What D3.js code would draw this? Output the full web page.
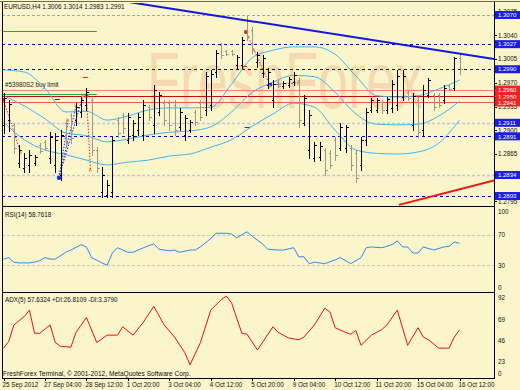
<!DOCTYPE html>
<html>
<head>
<meta charset="utf-8">
<script src="https://cdnjs.cloudflare.com/ajax/libs/d3/7.8.5/d3.min.js"></script>
<style>
  body { margin: 0; background: #fbf5cc; }
  svg text { font-family: "Liberation Sans", Arial, sans-serif; }
</style>
</head>
<body>
<div id="chart"></div>
<script>
// EURUSD H4 bars, index 0 = 25 Sep 20:00, index 88 = 16 Oct 12:00
const openPx = [1.2908,1.2915,1.2908,1.2852,1.2844,1.2849,1.2852,1.2878,1.2883,1.2859,
  1.2849,1.2834,1.2911,1.2923,1.2915,1.2927,1.2937,1.2945,1.2871,1.2809,
  1.2804,1.2809,1.2915,1.2923,1.2886,1.2893,1.2900,1.2893,1.2934,1.2908,
  1.2927,1.2940,1.2940,1.2937,1.2905,1.2893,1.2900,1.2927,1.2940,1.2930,
  1.2937,1.2986,1.3026,1.3017,1.3017,1.2996,1.2996,1.3063,1.3048,1.3001,
  1.2984,1.2967,1.2945,1.2971,1.2965,1.2967,1.2971,1.2974,1.2911,1.2871,
  1.2859,1.2860,1.2871,1.2866,1.2886,1.2874,1.2874,1.2874,1.2866,1.2849,
  1.2886,1.2930,1.2930,1.2942,1.2930,1.2933,1.2937,1.2949,1.2956,1.2908,
  1.2945,1.2900,1.2952,1.2952,1.2952,1.2945,1.2965,1.2962,1.3006];
const highPx = [1.2955,1.2945,1.2911,1.2878,1.2866,1.2871,1.2863,1.2881,1.2886,1.2897,
  1.2896,1.2900,1.2915,1.2925,1.2940,1.2949,1.2962,1.2948,1.2875,1.2846,
  1.2827,1.2890,1.2920,1.2925,1.2925,1.2915,1.2925,1.2945,1.2937,1.2967,
  1.2956,1.2945,1.2945,1.2945,1.2933,1.2923,1.2915,1.2930,1.2945,1.2986,
  1.2989,1.3018,1.3029,1.3018,1.3018,1.3011,1.3038,1.3070,1.3052,1.3015,
  1.3011,1.2992,1.2974,1.2974,1.2973,1.2979,1.2986,1.2977,1.2952,1.2930,
  1.2883,1.2883,1.2874,1.2871,1.2890,1.2911,1.2908,1.2878,1.2871,1.2890,
  1.2933,1.2948,1.2948,1.2945,1.2949,1.2974,1.2989,1.2989,1.2959,1.2955,
  1.2949,1.2967,1.2977,1.2955,1.2955,1.2967,1.2967,1.3008,1.3014];
const lowPx = [1.2896,1.2899,1.2866,1.2846,1.2838,1.2838,1.2849,1.2866,1.2871,1.2852,
  1.2838,1.2827,1.2875,1.2881,1.2908,1.2920,1.2930,1.2863,1.2838,1.2801,
  1.2801,1.2801,1.2890,1.2896,1.2881,1.2886,1.2893,1.2886,1.2915,1.2896,
  1.2923,1.2908,1.2900,1.2893,1.2900,1.2886,1.2897,1.2908,1.2915,1.2923,
  1.2930,1.2979,1.3007,1.3011,1.3011,1.2992,1.2992,1.3033,1.3014,1.2993,
  1.2979,1.2962,1.2934,1.2964,1.2962,1.2964,1.2967,1.2905,1.2908,1.2859,
  1.2855,1.2856,1.2834,1.2844,1.2856,1.2871,1.2868,1.2841,1.2824,1.2841,
  1.2878,1.2927,1.2927,1.2925,1.2925,1.2927,1.2930,1.2945,1.2945,1.2900,
  1.2890,1.2893,1.2949,1.2930,1.2934,1.2940,1.2959,1.2959,1.2983];
const closePx = [1.2948,1.2939,1.2874,1.2871,1.2859,1.2863,1.2860,1.2869,1.2874,1.2890,
  1.2886,1.2893,1.2881,1.2889,1.2934,1.2945,1.2956,1.2871,1.2844,1.2834,
  1.2819,1.2886,1.2896,1.2903,1.2920,1.2911,1.2920,1.2937,1.2920,1.2959,
  1.2952,1.2915,1.2908,1.2900,1.2927,1.2918,1.2912,1.2912,1.2920,1.2980,
  1.2983,1.3014,1.3011,1.3012,1.3012,1.3008,1.3033,1.3039,1.3018,1.3011,
  1.3007,1.2986,1.2968,1.2965,1.2970,1.2976,1.2981,1.2915,1.2948,1.2923,
  1.2878,1.2877,1.2841,1.2849,1.2863,1.2905,1.2905,1.2849,1.2830,1.2886,
  1.2927,1.2945,1.2945,1.2930,1.2946,1.2968,1.2980,1.2980,1.2948,1.2951,
  1.2897,1.2959,1.2974,1.2934,1.2937,1.2962,1.2961,1.3006,1.2991];

// Bollinger bands, read every 4th bar
const bbIdx = [0,4,8,12,16,20,24,28,32,36,40,44,48,52,56,60,64,68,72,76,80,84,88];
const bbUpper = [1.2989,1.2986,1.2962,1.2927,1.2928,1.2915,1.2921,1.2930,1.2933,1.2933,1.2934,1.2968,1.3007,1.3018,1.3023,1.3023,1.3012,1.2980,1.2951,1.2949,1.2951,1.2961,1.2974];
const bbMiddle = [1.2951,1.2936,1.2917,1.2896,1.2892,1.2883,1.2887,1.2893,1.2897,1.2899,1.2905,1.2927,1.2956,1.2971,1.2981,1.2979,1.2956,1.2924,1.2909,1.2908,1.2909,1.2921,1.2943];
const bbLower = [1.2912,1.2886,1.2871,1.2864,1.2856,1.2849,1.2853,1.2856,1.2862,1.2865,1.2875,1.2886,1.2906,1.2924,1.2940,1.2934,1.2900,1.2871,1.2866,1.2865,1.2868,1.2881,1.2915];

// RSI(14) turning points
const rsiIdx = [0,1,2,3,5,6,7,8,9,10,12,13,15,16,17,19,20,21,22,24,25,27,29,30,32,33,34,36,37,38,40,41,43,44,45,47,48,50,51,53,54,56,57,58,59,60,62,64,65,67,69,70,71,73,75,76,77,78,79,80,81,83,85,86,87,88];
const rsiVal = [38,40,34,33,33,34,36,40,38,38,47,50,57,54,40,33,30,46,53,47,47,53,58,51,49,50,47,50,50,54,65,72,72,71,66,74,68,58,51,50,50,53,41,41,32,34,32,37,40,32,40,53,54,53,57,62,54,54,46,46,54,50,54,55,60.5,58.76];

// ADX(5) turning points
const adxIdx = [0,1,2,4,5,6,7,9,10,11,13,14,16,18,20,22,23,25,27,29,31,33,35,36,38,40,42,43,44,46,47,49,52,53,55,57,58,60,62,63,64,66,67,68,69,71,73,74,76,78,80,81,82,84,86,87,88];
const adxVal = [38,45,63,72,79,54,54,63,44,40,39,55,71,44,52,52,61,52,66,83,63,50,33,20,44,79,90,94,87,54,53,36,61,55,49,47,50,63,81,77,60,55,53,57,41,52,58,63,79,41,60,50,47,38,38,50,57.6];

const timeIdx = [0,8,16,24,32,40,48,56,64,72,80,88];
const timeLabels = ["25 Sep 2012","27 Sep 04:00","28 Sep 12:00","1 Oct 20:00","3 Oct 04:00","4 Oct 12:00",
  "5 Oct 20:00","9 Oct 04:00","10 Oct 12:00","11 Oct 20:00","15 Oct 04:00","16 Oct 12:00"];

const priceTicks = [1.3075,1.3040,1.3005,1.2970,1.2935,1.2900,1.2865,1.2795];
const levelPx = [1.3070,1.3027,1.2990,1.2960,1.2950,1.2941,1.2911,1.2891,1.2834,1.2803];
const levelKind = ["lav","blue","blue","red1","red2","red3","gray","blue","gray","blue"];
const greenPx = [1.3046,1.2953];
const greenEndIdx = 18;

// trend lines: [startIdx, startPx, endIdx, endPx]
const blueTrend = [24.1, 1.30892, 88, 1.3013];
const redTrend = [76.3, 1.2790, 88, 1.2813];

// history trades: [openIdx, openPx, closeIdx, closePx, type]
const trades = [
  [0, 1.2945, 3.3, 1.2867, "sell"],
  [10.7, 1.2830, 12.5, 1.2915, "buy"],
  [10.7, 1.2830, 14, 1.2935, "buy"],
  [10.7, 1.2830, 15.3, 1.2950, "buy"],
  [16, 1.2951, 16.8, 1.2841, "sell"],
  [46.8, 1.3045, 51.5, 1.2965, "sell"],
  [51.5, 1.2967, 57, 1.2970, "buy"]
];
// short stop / take-profit marks: [idx, price, type]
const marks = [[10.4, 1.2946, "buy"], [15.8, 1.2979, "sell"], [46.5, 1.2995, "sell"], [47, 1.2905, "buy"]];

const rsiLevels = [70, 30];
const rsiTicks = [100, 70, 30, 0];
const adxTicks = [92, 69, 46, 23];

const W = 520, H = 390;
const L = 2, R = 494;
const main = {top: 3, bottom: 206};
const rsiPane = {top: 207, bottom: 292};
const adxPane = {top: 293, bottom: 378};

const svg = d3.select('#chart').append('svg')
  .attr('width', W).attr('height', H);

svg.append('rect').attr('width', W).attr('height', H).attr('fill', '#fbf5cc');

const defs = svg.append('defs');
[['clipMain', main], ['clipRsi', rsiPane], ['clipAdx', adxPane]].forEach(([id, p]) => {
  defs.append('clipPath').attr('id', id).append('rect')
    .attr('x', L).attr('y', p.top).attr('width', R - L).attr('height', p.bottom - p.top);
});

const x = d3.scaleLinear().domain([0, 88]).range([3.5, 459.5]);
const y = d3.scaleLinear().domain([1.27883, 1.30877]).range([main.bottom, main.top]);
const yR = d3.scaleLinear().domain([0, 100]).range([288, 212]);
const yA = d3.scaleLinear().domain([0, 92]).range([383.4, 298]);
const px = v => Math.round(v) + 0.5;
const sideColor = t => t === 'buy' ? '#1030f0' : '#f02020';

// watermark
svg.append('text')
  .attr('x', 147).attr('y', 108)
  .attr('font-size', 80)
  .attr('textLength', 276).attr('lengthAdjust', 'spacingAndGlyphs')
  .attr('fill', '#f4d9b1')
  .text('FreshForex');

const gMain = svg.append('g').attr('clip-path', 'url(#clipMain)');

// horizontal levels
const levelStyle = {
  lav: {c: '#9c9cec', d: '3,2', w: 1},
  blue: {c: '#0000d8', d: '3,3', w: 1},
  gray: {c: '#c9c3da', d: '3,2', w: 1.5},
  red1: {c: '#f28474', d: null, w: 1},
  red2: {c: '#c80c0c', d: null, w: 1},
  red3: {c: '#ee5a4a', d: null, w: 1}
};
gMain.selectAll('.level').data(levelPx).enter().append('line')
  .attr('class', 'level')
  .attr('x1', L).attr('x2', R)
  .attr('y1', d => px(y(d))).attr('y2', d => px(y(d)))
  .attr('stroke', (d, i) => levelStyle[levelKind[i]].c)
  .attr('stroke-width', (d, i) => levelStyle[levelKind[i]].w)
  .attr('stroke-dasharray', (d, i) => levelStyle[levelKind[i]].d);

gMain.selectAll('.green').data(greenPx).enter().append('line')
  .attr('x1', L).attr('x2', x(greenEndIdx))
  .attr('y1', d => px(y(d))).attr('y2', d => px(y(d)))
  .attr('stroke', '#1fae1f').attr('stroke-width', 1);

gMain.append('text').attr('x', 5).attr('y', y(greenPx[1]) - 7)
  .attr('font-size', 6.3).attr('fill', '#222').text('#53980S2 buy limit');

// bollinger bands
const bandLine = vals => d3.line()
  .x((d, i) => x(bbIdx[i])).y(d => y(d))
  .curve(d3.curveMonotoneX)(vals);
[bbUpper, bbMiddle, bbLower].forEach(vals => {
  gMain.append('path').attr('d', bandLine(vals))
    .attr('fill', 'none').attr('stroke', '#3fb6ee').attr('stroke-width', 1);
});

// trade history
gMain.selectAll('.trade').data(trades).enter().append('line')
  .attr('x1', d => x(d[0])).attr('y1', d => y(d[1]))
  .attr('x2', d => x(d[2])).attr('y2', d => y(d[3]))
  .attr('stroke', d => sideColor(d[4]))
  .attr('stroke-width', 1).attr('stroke-dasharray', '1.5,1.5');
gMain.selectAll('.topen').data(trades).enter().append('circle')
  .attr('cx', d => x(d[0])).attr('cy', d => y(d[1])).attr('r', 2)
  .attr('fill', d => sideColor(d[4]));
gMain.selectAll('.tclose').data(trades).enter().append('path')
  .attr('d', d => `M${x(d[2]) - 1.5},${y(d[3]) - 2}l3,2l-3,2z`)
  .attr('fill', '#f0a020');
gMain.selectAll('.mark').data(marks).enter().append('line')
  .attr('x1', d => x(d[0]) - 2.5).attr('x2', d => x(d[0]) + 2.5)
  .attr('y1', d => px(y(d[1]))).attr('y2', d => px(y(d[1])))
  .attr('stroke', d => sideColor(d[2])).attr('stroke-width', 1);

// OHLC bars
const bars = gMain.selectAll('.bar').data(closePx).enter().append('g')
  .attr('stroke', (d, i) => d >= openPx[i] ? '#000000' : '#9c9a86')
  .attr('shape-rendering', 'crispEdges');
bars.append('line')
  .attr('x1', (d, i) => px(x(i))).attr('x2', (d, i) => px(x(i)))
  .attr('y1', (d, i) => y(highPx[i])).attr('y2', (d, i) => y(lowPx[i]) + 1);
bars.append('line')
  .attr('x1', (d, i) => px(x(i)) - 2).attr('x2', (d, i) => px(x(i)))
  .attr('y1', (d, i) => px(y(openPx[i]))).attr('y2', (d, i) => px(y(openPx[i])));
bars.append('line')
  .attr('x1', (d, i) => px(x(i))).attr('x2', (d, i) => px(x(i)) + 2)
  .attr('y1', (d, i) => px(y(d))).attr('y2', (d, i) => px(y(d)));

// trend lines, extended to the right edge
const rightIdx = x.invert(R);
[[blueTrend, '#1414e6'], [redTrend, '#f01414']].forEach(([t, c]) => {
  const slope = (t[3] - t[1]) / (t[2] - t[0]);
  gMain.append('line')
    .attr('x1', x(t[0])).attr('y1', y(t[1]))
    .attr('x2', x(rightIdx)).attr('y2', y(t[1] + slope * (rightIdx - t[0])))
    .attr('stroke', c).attr('stroke-width', 2);
});

svg.append('text').attr('x', 4).attr('y', 9).attr('font-size', 6.3).attr('fill', '#111')
  .text('EURUSD,H4  1.3006 1.3014 1.2983 1.2991');

// RSI pane
const gRsi = svg.append('g').attr('clip-path', 'url(#clipRsi)');
gRsi.selectAll('.rl').data(rsiLevels).enter().append('line')
  .attr('x1', L).attr('x2', R)
  .attr('y1', d => px(yR(d))).attr('y2', d => px(yR(d)))
  .attr('stroke', '#cfc6b0').attr('stroke-dasharray', '3,2');
gRsi.append('path')
  .attr('d', d3.line().x((d, i) => x(rsiIdx[i])).y(d => yR(d))(rsiVal))
  .attr('fill', 'none').attr('stroke', '#2a8cf0').attr('stroke-width', 1);
svg.append('text').attr('x', 5).attr('y', 217).attr('font-size', 6.3).attr('fill', '#111')
  .text('RSI(14) 58.7618');

// ADX pane
const gAdx = svg.append('g').attr('clip-path', 'url(#clipAdx)');
gAdx.append('path')
  .attr('d', d3.line().x((d, i) => x(adxIdx[i])).y(d => yA(d))(adxVal))
  .attr('fill', 'none').attr('stroke', '#ee1010').attr('stroke-width', 1);
svg.append('text').attr('x', 5).attr('y', 302).attr('font-size', 6.3).attr('fill', '#111')
  .text('ADX(5) 57.6324 +DI:26.8109 -DI:3.3790');
svg.append('text').attr('x', 3).attr('y', 376).attr('font-size', 6.6).attr('fill', '#111')
  .text('FreshForex Terminal, \u00a9 2001-2012, MetaQuotes Software Corp.');

// frames and separators
const frame = svg.append('g').attr('stroke', '#000').attr('shape-rendering', 'crispEdges');
frame.append('line').attr('x1', 0).attr('x2', W).attr('y1', 1.5).attr('y2', 1.5).attr('stroke', '#6b6a4a');
frame.append('line').attr('x1', L + 0.5).attr('x2', L + 0.5).attr('y1', 2).attr('y2', adxPane.bottom);
frame.append('line').attr('x1', R + 0.5).attr('x2', R + 0.5).attr('y1', 2).attr('y2', adxPane.bottom);
[main.bottom, rsiPane.bottom, adxPane.bottom].forEach(v => {
  frame.append('line').attr('x1', L).attr('x2', R + 1).attr('y1', v + 0.5).attr('y2', v + 0.5);
});

// price axis
const axisTxt = {size: 6.3, color: '#111'};
svg.selectAll('.pt').data(priceTicks).enter().append('line')
  .attr('x1', R).attr('x2', R + 3).attr('y1', d => px(y(d))).attr('y2', d => px(y(d)))
  .attr('stroke', '#000');
svg.selectAll('.ptl').data(priceTicks).enter().append('text')
  .attr('x', 498).attr('y', d => y(d) + 2.3)
  .attr('font-size', axisTxt.size).attr('fill', axisTxt.color)
  .text(d => d.toFixed(4));

const boxColor = k => k.startsWith('red') ? '#f02424' : '#1c1ce8';
const boxes = svg.selectAll('.box').data(levelPx).enter().append('g');
boxes.append('rect')
  .attr('x', R + 1).attr('y', d => y(d) - 4).attr('width', 25).attr('height', 8)
  .attr('fill', (d, i) => boxColor(levelKind[i]));
boxes.append('text')
  .attr('x', 498).attr('y', d => y(d) + 2.2)
  .attr('font-size', 6).attr('fill', '#fff')
  .text(d => d.toFixed(4));

// RSI and ADX axes
svg.selectAll('.rt').data(rsiTicks).enter().append('text')
  .attr('x', 498).attr('y', d => yR(d) + 2.3)
  .attr('font-size', axisTxt.size).attr('fill', axisTxt.color).text(d => d);
svg.selectAll('.at').data(adxTicks).enter().append('text')
  .attr('x', 498).attr('y', d => yA(d) + 2.3)
  .attr('font-size', axisTxt.size).attr('fill', axisTxt.color).text(d => d);
svg.append('text').attr('x', 498).attr('y', adxPane.bottom - 2)
  .attr('font-size', axisTxt.size).attr('fill', axisTxt.color).text(0);

// time axis
svg.selectAll('.tt').data(timeIdx).enter().append('line')
  .attr('x1', d => px(x(d))).attr('x2', d => px(x(d)))
  .attr('y1', adxPane.bottom).attr('y2', adxPane.bottom + 3)
  .attr('stroke', '#000');
svg.selectAll('.tl').data(timeIdx).enter().append('text')
  .attr('x', d => x(d) - 1).attr('y', 387)
  .attr('font-size', axisTxt.size).attr('fill', axisTxt.color)
  .text((d, i) => timeLabels[i]);
</script>
</body>
</html>
